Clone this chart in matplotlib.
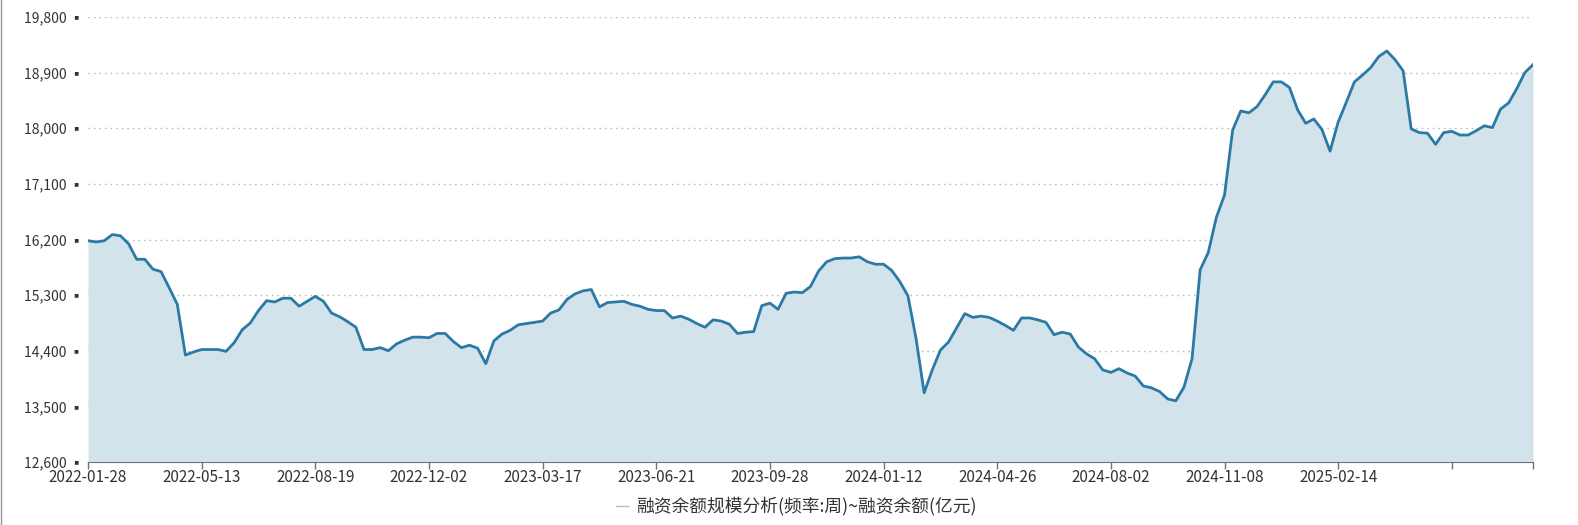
import numpy as np
import matplotlib
matplotlib.use('Agg')
import matplotlib.pyplot as plt
from matplotlib.lines import Line2D

plt.rcParams['font.family'] = ['Noto Sans CJK SC', 'DejaVu Sans']

# 融资余额 (亿元), weekly
balance = [
    16180, 16160, 16180, 16280, 16260, 16130, 15880, 15880, 15720, 15680,
    15420, 15150, 14330, 14380, 14420, 14420, 14420, 14390, 14530, 14740,
    14850, 15050, 15210, 15190, 15250, 15250, 15120, 15200, 15280, 15200,
    15010, 14950, 14870, 14780, 14420, 14420, 14450, 14400, 14510, 14570,
    14620, 14620, 14610, 14680, 14680, 14550, 14450, 14490, 14440, 14190,
    14560, 14670, 14730, 14820, 14840, 14860, 14880, 15010, 15060, 15230,
    15320, 15370, 15390, 15110, 15180, 15190, 15200, 15150, 15120, 15070,
    15050, 15050, 14930, 14960, 14910, 14840, 14780, 14900, 14880, 14830,
    14680, 14700, 14710, 15130, 15170, 15070, 15330, 15350, 15340, 15440,
    15690, 15840, 15890, 15900, 15900, 15920, 15840, 15800, 15800, 15700,
    15520, 15290, 14600, 13720, 14090, 14410, 14540, 14770, 15000, 14940,
    14960, 14940, 14880, 14810, 14730, 14930, 14930, 14900, 14860, 14660,
    14700, 14670, 14460, 14350, 14270, 14090, 14050, 14110, 14040, 13990,
    13830, 13800, 13740, 13620, 13590, 13810, 14270, 15710, 15990, 16560,
    16920, 17970, 18280, 18250, 18350, 18540, 18750, 18750, 18660, 18300,
    18080, 18150, 17980, 17630, 18100, 18420, 18750, 18860, 18980, 19160,
    19250, 19110, 18930, 17990, 17930, 17920, 17740, 17930, 17950, 17890,
    17890, 17960, 18040, 18010, 18310, 18410, 18640, 18900, 19030,
]

tick_labels = ['2022-01-28', '2022-05-13', '2022-08-19', '2022-12-02',
               '2023-03-17', '2023-06-21', '2023-09-28', '2024-01-12',
               '2024-04-26', '2024-08-02', '2024-11-08', '2025-02-14']
y_ticks = [12600, 13500, 14400, 15300, 16200, 17100, 18000, 18900, 19800]

line_color = '#2b7aa5'
fill_color = '#d3e3ec'
text_color = '#333333'

fig = plt.figure(figsize=(15.78, 5.25), dpi=100)
ax = fig.add_axes([88 / 1578, 63 / 525, 1445 / 1578, 445 / 525])

x = np.arange(len(balance))
ax.fill_between(x, balance, 12600, color=fill_color, linewidth=0)
ax.plot(x, balance, color=line_color, linewidth=2)

ax.set_xlim(0, len(balance) - 1)
ax.set_ylim(12600, 19800)

# x axis: label every 14 weeks, plus unlabeled ticks
xt = list(range(0, 14 * len(tick_labels), 14)) + [168, len(balance) - 1]
ax.set_xticks(xt)
ax.set_xticklabels(tick_labels + ['', ''])
ax.tick_params(axis='x', length=5, width=1, color='#6e7079', labelsize=11,
               labelcolor=text_color, pad=0)

ax.set_yticks(y_ticks)
ax.set_yticklabels(['{:,} \u25aa'.format(v) for v in y_ticks])
ax.tick_params(axis='y', length=0, labelsize=10, labelcolor=text_color, pad=3)

for v in y_ticks[1:]:
    ax.axhline(v, color='#b0b0b0', linewidth=1, linestyle=(0, (1, 3)), zorder=0.5)

for s in ['top', 'right', 'left']:
    ax.spines[s].set_visible(False)
ax.spines['bottom'].set_color('#6e7079')

# thin border at the very left edge
fig.add_artist(Line2D([0.5 / 1578, 0.5 / 1578], [0, 1], color='#999999', linewidth=1))

# legend
fig.add_artist(Line2D([616 / 1578, 628 / 1578], [19 / 525, 19 / 525],
                      color='#9cc3d8', linewidth=1))
fig.text(636 / 1578, 19 / 525, '融资余额规模分析(频率:周)~融资余额(亿元)',
         fontsize=12.8, color=text_color, va='center', ha='left')

fig.savefig('out.png', dpi=100)
